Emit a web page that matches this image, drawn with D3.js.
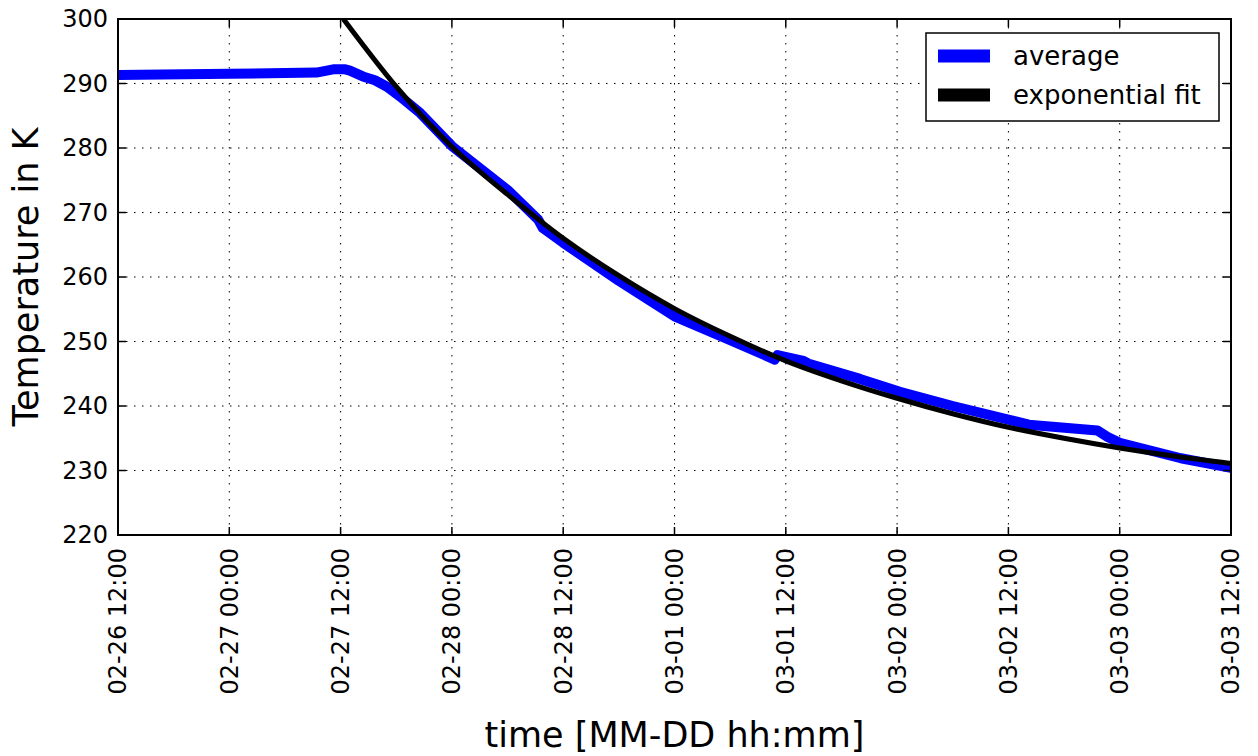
<!DOCTYPE html>
<html>
<head>
<meta charset="utf-8">
<script src="https://cdn.jsdelivr.net/npm/d3@7"></script>
<style>
  body { margin: 0; background: #fff; }
  svg { font-family: "DejaVu Sans", sans-serif; }
</style>
</head>
<body>
<svg id="chart" width="1258" height="756"></svg>
<script>
// measured average temperature
const avgTimes = ["2015-02-26 12:00", "2015-02-27 00:00", "2015-02-27 09:24", "2015-02-27 11:12",
    "2015-02-27 12:30", "2015-02-27 13:00", "2015-02-27 14:24", "2015-02-27 15:42", "2015-02-27 17:00",
    "2015-02-27 18:24", "2015-02-27 20:36", "2015-02-28 00:00", "2015-02-28 06:00", "2015-02-28 09:18",
    "2015-02-28 09:48", "2015-02-28 12:00", "2015-02-28 18:00", "2015-03-01 00:00", "2015-03-01 06:00",
    "2015-03-01 10:48", "2015-03-01 11:06", "2015-03-01 13:54", "2015-03-01 14:24", "2015-03-01 20:00",
    "2015-03-02 00:18", "2015-03-02 06:00", "2015-03-02 12:00", "2015-03-02 14:12", "2015-03-02 21:36",
    "2015-03-02 22:42", "2015-03-03 00:00", "2015-03-03 06:36", "2015-03-03 12:00"];
const avgValues = [291.3, 291.5, 291.7, 292.2, 292.2, 292.0, 291.1, 290.5, 289.5,
    288.0, 285.4, 280.3, 273.5, 268.9, 267.6, 265.3, 259.4, 253.9, 250.2,
    247.2, 247.9, 247.0, 246.6, 244.2, 242.2, 240.0, 237.9, 237.1, 236.2,
    235.2, 234.3, 231.9, 230.4];

// exponential fit curve
const fitTimes = ["2015-02-27 12:18", "2015-02-27 18:00", "2015-02-28 00:00", "2015-02-28 06:00",
    "2015-02-28 12:00", "2015-02-28 18:00", "2015-03-01 00:00", "2015-03-01 06:00", "2015-03-01 12:00",
    "2015-03-01 18:00", "2015-03-02 00:00", "2015-03-02 06:00", "2015-03-02 12:00", "2015-03-02 18:00",
    "2015-03-03 00:00", "2015-03-03 06:00", "2015-03-03 12:00"];
const fitValues = [300.0, 289.5, 280.2, 272.8, 266.0, 260.2, 255.1, 250.8, 247.0,
    243.9, 241.2, 238.8, 236.7, 235.0, 233.5, 232.2, 231.1];

const yTicks = [220, 230, 240, 250, 260, 270, 280, 290, 300];
const xRange = ["2015-02-26 12:00", "2015-03-03 12:00"];

const parse = d3.utcParse("%Y-%m-%d %H:%M");
const fmt = d3.utcFormat("%m-%d %H:%M");

const margin = {left: 118, top: 19, right: 1231, bottom: 535};
const svg = d3.select("#chart");

const x = d3.scaleUtc().domain(xRange.map(parse)).range([margin.left, margin.right]);
const y = d3.scaleLinear().domain([220, 300]).range([margin.bottom, margin.top]);
const xTicks = d3.utcHour.every(12).range(x.domain()[0], d3.utcHour.offset(x.domain()[1], 1));

const avg = avgTimes.map((t, i) => ({t: parse(t), v: avgValues[i]}));
const fit = fitTimes.map((t, i) => ({t: parse(t), v: fitValues[i]}));

svg.append("clipPath").attr("id", "clip")
    .append("rect")
    .attr("x", margin.left).attr("y", margin.top)
    .attr("width", margin.right - margin.left).attr("height", margin.bottom - margin.top);

// grid
const grid = svg.append("g").attr("stroke", "#000").attr("stroke-width", 1)
    .attr("stroke-dasharray", "1.5,6.5");
grid.selectAll(".gx").data(xTicks).join("line")
    .attr("x1", d => x(d)).attr("x2", d => x(d))
    .attr("y1", margin.top).attr("y2", margin.bottom);
grid.selectAll(".gy").data(yTicks).join("line")
    .attr("x1", margin.left).attr("x2", margin.right)
    .attr("y1", d => y(d)).attr("y2", d => y(d));

// lines
const line = d3.line().x(d => x(d.t)).y(d => y(d.v));
const plot = svg.append("g").attr("clip-path", "url(#clip)");
plot.append("path").datum(avg)
    .attr("d", line)
    .attr("fill", "none").attr("stroke", "#0000ff").attr("stroke-width", 10)
    .attr("stroke-linejoin", "round");
plot.append("path").datum(fit)
    .attr("d", line.curve(d3.curveMonotoneX))
    .attr("fill", "none").attr("stroke", "#000").attr("stroke-width", 5)
    .attr("stroke-linejoin", "round");

// ticks (inward, all four sides)
const tickLen = 8;
const ticks = svg.append("g").attr("stroke", "#000").attr("stroke-width", 1.5);
xTicks.forEach(d => {
    ticks.append("line").attr("x1", x(d)).attr("x2", x(d))
        .attr("y1", margin.bottom).attr("y2", margin.bottom - tickLen);
    ticks.append("line").attr("x1", x(d)).attr("x2", x(d))
        .attr("y1", margin.top).attr("y2", margin.top + tickLen);
});
yTicks.forEach(d => {
    ticks.append("line").attr("x1", margin.left).attr("x2", margin.left + tickLen)
        .attr("y1", y(d)).attr("y2", y(d));
    ticks.append("line").attr("x1", margin.right).attr("x2", margin.right - tickLen)
        .attr("y1", y(d)).attr("y2", y(d));
});

// frame
svg.append("rect")
    .attr("x", margin.left).attr("y", margin.top)
    .attr("width", margin.right - margin.left).attr("height", margin.bottom - margin.top)
    .attr("fill", "none").attr("stroke", "#000").attr("stroke-width", 2);

// tick labels
svg.append("g").selectAll("text").data(yTicks).join("text")
    .attr("x", margin.left - 10).attr("y", d => y(d))
    .attr("dy", "0.35em").attr("text-anchor", "end")
    .attr("font-size", 24).text(d => d);

svg.append("g").selectAll("text").data(xTicks).join("text")
    .attr("transform", d => `translate(${x(d)},${margin.bottom + 13}) rotate(-90)`)
    .attr("dy", "0.35em").attr("text-anchor", "end")
    .attr("font-size", 24).text(d => fmt(d));

// axis labels
svg.append("text")
    .attr("transform", `translate(38,${(margin.top + margin.bottom) / 2}) rotate(-90)`)
    .attr("text-anchor", "middle").attr("font-size", 35)
    .text("Temperature in K");
svg.append("text")
    .attr("x", (margin.left + margin.right) / 2).attr("y", 747)
    .attr("text-anchor", "middle").attr("font-size", 35)
    .text("time [MM-DD hh:mm]");

// legend
const legend = svg.append("g");
legend.append("rect")
    .attr("x", 926).attr("y", 33).attr("width", 293).attr("height", 88)
    .attr("fill", "#fff").attr("stroke", "#000").attr("stroke-width", 1.5);
const items = [{label: "average", color: "#0000ff"}, {label: "exponential fit", color: "#000"}];
items.forEach((d, i) => {
    const cy = 56 + i * 39;
    legend.append("rect").attr("x", 938).attr("y", cy - 6.5)
        .attr("width", 52).attr("height", 13).attr("fill", d.color);
    legend.append("text").attr("x", 1013).attr("y", cy)
        .attr("dy", "0.35em").attr("font-size", 26).text(d.label);
});
</script>
</body>
</html>
